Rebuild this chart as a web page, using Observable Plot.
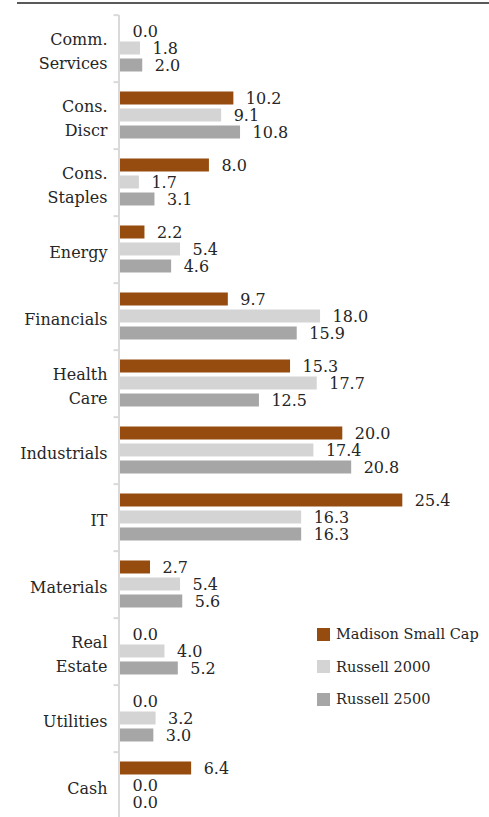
<!DOCTYPE html>
<html><head><meta charset="utf-8">
<script src="https://cdn.jsdelivr.net/npm/d3@7"></script>
<script src="https://cdn.jsdelivr.net/npm/@observablehq/plot@0.6"></script>
<style>
html,body{margin:0;padding:0;background:#fff;}
#wrap{position:relative;width:489px;height:817px;overflow:hidden;font-family:"DejaVu Serif",serif;color:#262626;}
#topline{position:absolute;left:17px;right:0;top:2px;height:1.5px;background:#595959;}
#chart{position:absolute;left:0;top:0;}
#legend{position:absolute;left:317px;top:617.75px;}
.item{display:flex;align-items:center;height:32.5px;font-size:14.5px;white-space:nowrap;}
.sw{width:13px;height:13px;margin-right:6px;flex:none;}
</style>
</head><body>
<div id="wrap"><div id="topline"></div><div id="chart"></div><div id="legend"></div></div>
<script>
const categories = ["Comm. Services","Cons. Discr","Cons. Staples","Energy","Financials","Health Care","Industrials","IT","Materials","Real Estate","Utilities","Cash"];
const categoryLabels = ["Comm.\nServices","Cons.\nDiscr","Cons.\nStaples","Energy","Financials","Health\nCare","Industrials","IT","Materials","Real\nEstate","Utilities","Cash"];
const series = ["Madison Small Cap","Russell 2000","Russell 2500"];
const colors = ["#964B0F","#D4D4D4","#A6A6A6"];
const madison     = [0.0,10.2,8.0,2.2, 9.7,15.3,20.0,25.4,2.7,0.0,0.0,6.4];
const russell2000 = [1.8, 9.1,1.7,5.4,18.0,17.7,17.4,16.3,5.4,4.0,3.2,0.0];
const russell2500 = [2.0,10.8,3.1,4.6,15.9,12.5,20.8,16.3,5.6,5.2,3.0,0.0];
const xMax = 33.2;

const seriesValues = [madison, russell2000, russell2500];
const data = categories.flatMap((c, i) => seriesValues.map((vals, j) => ({category: c, series: series[j], value: vals[i]})));
const labelOf = Object.fromEntries(categories.map((c, i) => [c, categoryLabels[i]]));

const bandH = 67.7, plotTop = 10.5;
const plot = Plot.plot({
  width: 489,
  height: plotTop + categories.length * bandH,
  marginTop: plotTop, marginBottom: 0, marginLeft: 120, marginRight: 0,
  style: {fontFamily: '"DejaVu Serif", serif', fontSize: "16px", color: "#262626", background: "transparent"},
  x: {domain: [0, xMax], axis: null},
  y: {domain: series, paddingInner: 0.222, paddingOuter: 0.49, axis: null},
  fy: {domain: categories, padding: 0, axis: null},
  color: {domain: series, range: colors},
  marks: [
    Plot.barX(data, {x: "value", y: "series", fy: "category", fill: "series"}),
    Plot.text(data, {x: "value", y: "series", fy: "category", text: d => d.value.toFixed(1), textAnchor: "start", dx: 12, fill: "#262626", fontSize: 16}),
    Plot.ruleX([0], {stroke: "#d9d9d9", strokeWidth: 2, dx: -1.5}),
    Plot.axisFy({anchor: "left", tickSize: 0, tickPadding: 13, tickFormat: c => labelOf[c], fontSize: 16, lineHeight: 1.55, fill: "#262626", label: null}),
    Plot.axisFy({anchor: "left", tickSize: 5, tickFormat: () => "", dy: -bandH / 2, dx: -1.5, stroke: "#d9d9d9", strokeWidth: 2, label: null})
  ]
});
document.getElementById("chart").appendChild(plot);

const legend = document.getElementById("legend");
series.forEach((s, i) => {
  const row = document.createElement("div");
  row.className = "item";
  const sw = document.createElement("span");
  sw.className = "sw";
  sw.style.background = colors[i];
  const t = document.createElement("span");
  t.textContent = s;
  row.appendChild(sw); row.appendChild(t);
  legend.appendChild(row);
});
</script>
</body></html>
